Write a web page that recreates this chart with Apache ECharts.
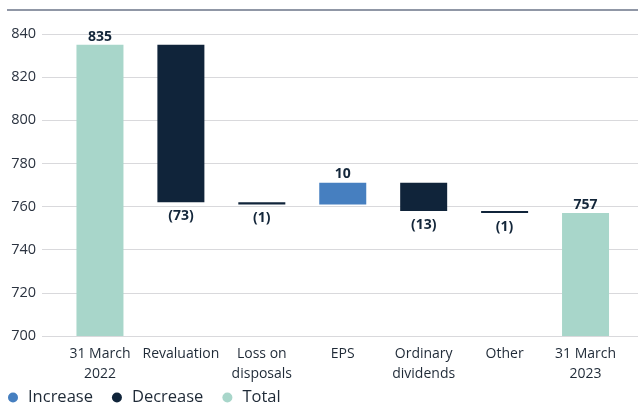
<!DOCTYPE html>
<html>
<head>
<meta charset="utf-8">
<script src="https://cdn.jsdelivr.net/npm/echarts@6/dist/echarts.min.js"></script>
<style>
  html, body { margin: 0; padding: 0; background: #fff; }
  #chart { width: 638px; height: 406px; }
</style>
</head>
<body>
<div id="chart"></div>
<script>
// waterfall data (pence per share)
const categories = ['31 March\n2022', 'Revaluation', 'Loss on\ndisposals', 'EPS', 'Ordinary\ndividends', 'Other', '31 March\n2023']
const changes = [835, -73, -1, 10, -13, -1, 757]
const isTotal = [true, false, false, false, false, false, true]
const yTicks = [700, 720, 740, 760, 780, 800, 820, 840]

const colors = {
  increase: '#467fc0',
  decrease: '#10243a',
  total: '#a8d6ca'
}
const FONT = 'Open Sans'

// build stacked series: transparent base + visible part
const base = []
const inc = []
const dec = []
const tot = []
let running = 0
changes.forEach((v, i) => {
  if (isTotal[i]) {
    running = v
    base.push('-')
    tot.push(v)
    inc.push('-')
    dec.push('-')
  } else if (v >= 0) {
    base.push(running)
    inc.push(v)
    dec.push('-')
    tot.push('-')
    running += v
  } else {
    running += v
    base.push(running)
    dec.push(-v)
    inc.push('-')
    tot.push('-')
  }
})

const labelStyle = {
  show: true,
  color: '#13263a',
  fontWeight: 'bold',
  fontSize: 14,
  fontFamily: FONT
}

const chart = echarts.init(document.getElementById('chart'), null, { renderer: 'canvas' })
chart.setOption({
  animation: false,
  textStyle: { fontFamily: FONT },
  graphic: [{
    type: 'line',
    shape: { x1: 7, y1: 10, x2: 638, y2: 10 },
    style: { stroke: '#6b7488', lineWidth: 1.5 }
  }],
  grid: [
    { left: 42, right: 0, top: 34, bottom: 70 },
    { left: 59.5, right: 12, top: 34, bottom: 70 }
  ],
  legend: {
    left: 8,
    top: 389,
    padding: 0,
    icon: 'circle',
    itemWidth: 20,
    itemHeight: 10,
    itemGap: 19,
    data: ['Increase', 'Decrease', 'Total'],
    textStyle: { fontSize: 16.5, color: '#1f2a37', fontFamily: FONT }
  },
  xAxis: [
    { gridIndex: 0, type: 'category', data: [], show: false },
    {
      gridIndex: 1,
      type: 'category',
      data: categories,
      axisLine: { show: false },
      axisTick: { show: false },
      axisLabel: {
        color: '#1f2a37',
        fontSize: 14,
        lineHeight: 20,
        margin: 8,
        interval: 0
      }
    }
  ],
  yAxis: [
    {
      gridIndex: 0,
      type: 'value',
      min: 700,
      max: 840,
      interval: 20,
      axisLine: { show: false },
      axisTick: { show: false },
      axisLabel: {
        color: '#2b3340',
        fontSize: 14.5,
        margin: 6,
        customValues: yTicks
      },
      splitLine: { lineStyle: { color: '#d9d9dc', width: 1.2 } }
    },
    {
      gridIndex: 1,
      type: 'value',
      min: 700,
      max: 840,
      interval: 20,
      show: false
    }
  ],
  series: [
    {
      name: 'base',
      type: 'bar',
      xAxisIndex: 1,
      yAxisIndex: 1,
      stack: 'wf',
      barWidth: 47,
      itemStyle: { color: 'transparent' },
      silent: true,
      data: base
    },
    {
      name: 'Increase',
      type: 'bar',
      xAxisIndex: 1,
      yAxisIndex: 1,
      stack: 'wf',
      barWidth: 47,
      itemStyle: { color: colors.increase },
      label: Object.assign({}, labelStyle, { position: 'top', distance: 2 }),
      data: inc
    },
    {
      name: 'Decrease',
      type: 'bar',
      xAxisIndex: 1,
      yAxisIndex: 1,
      stack: 'wf',
      barWidth: 47,
      itemStyle: { color: colors.decrease },
      label: Object.assign({}, labelStyle, {
        position: 'bottom',
        distance: 7,
        formatter: p => '(' + p.value + ')'
      }),
      data: dec
    },
    {
      name: 'Total',
      type: 'bar',
      xAxisIndex: 1,
      yAxisIndex: 1,
      stack: 'wf',
      barWidth: 47,
      itemStyle: { color: colors.total },
      label: Object.assign({}, labelStyle, { position: 'top', distance: 1 }),
      data: tot
    }
  ]
})
</script>
</body>
</html>
